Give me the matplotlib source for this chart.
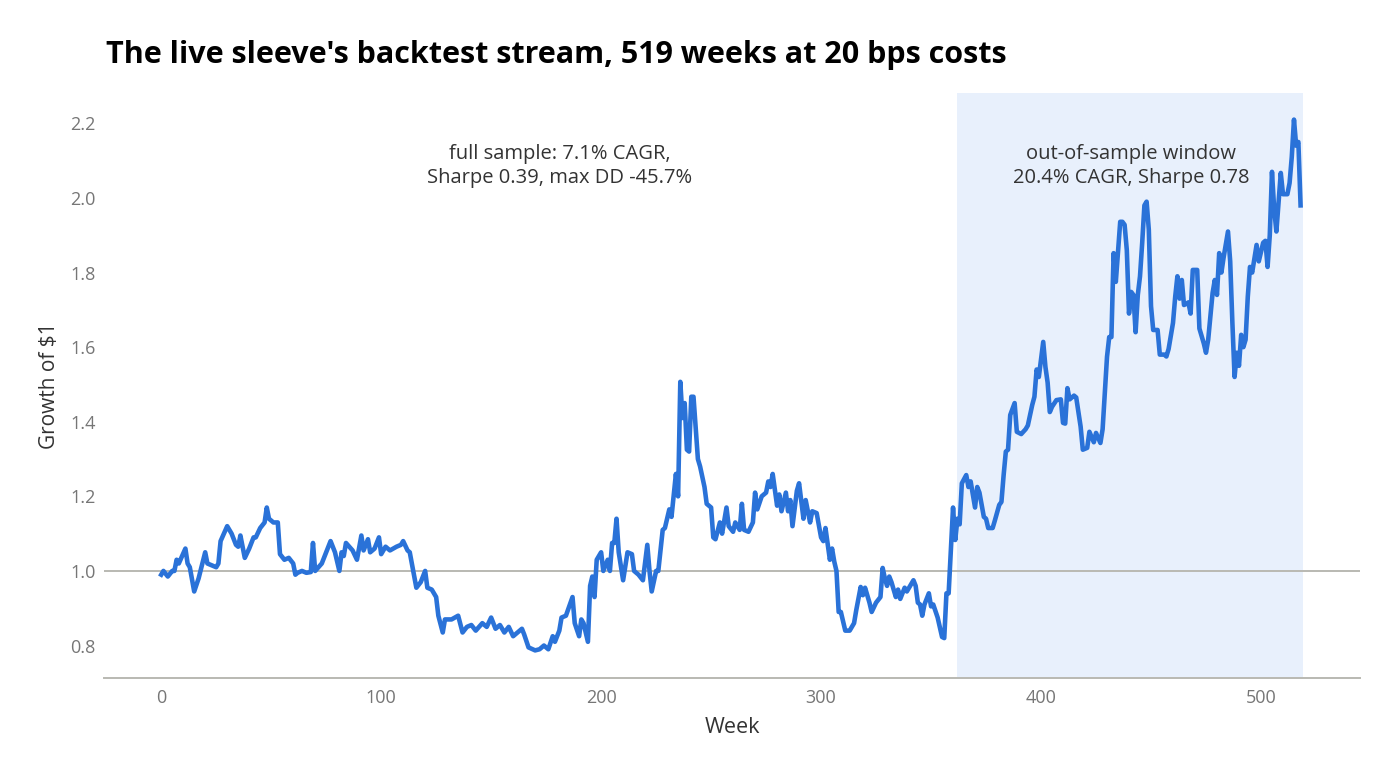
import matplotlib
matplotlib.use("Agg")
import matplotlib.pyplot as plt

plt.rcParams['font.family'] = ['Open Sans', 'DejaVu Sans']

# values (week, growth of $1)
weeks = [0, 1, 3, 5, 6, 7, 8, 11, 12, 13, 15, 17, 20, 21, 25, 26, 27, 30, 32, 34,
         35, 36, 38, 40, 42, 43, 45, 47, 48, 49, 51, 53, 54, 56, 58, 60, 61, 62, 64, 66,
         68, 69, 70, 73, 75, 77, 79, 81, 82, 83, 84, 87, 89, 91, 92, 94, 95, 97, 99, 100,
         102, 104, 107, 109, 110, 112, 113, 116, 118, 120, 121, 123, 125, 126, 128, 129, 132, 135, 137, 139,
         141, 143, 146, 148, 150, 152, 154, 156, 158, 160, 161, 164, 165, 167, 170, 172, 174, 176, 178, 179,
         181, 182, 184, 187, 188, 190, 191, 192, 194, 195, 196, 197, 198, 200, 201, 203, 204, 205, 206, 207,
         208, 210, 212, 214, 215, 217, 219, 221, 222, 223, 225, 226, 228, 229, 231, 232, 234, 235, 236, 237,
         238, 239, 240, 241, 242, 244, 245, 247, 248, 250, 251, 252, 254, 255, 257, 258, 260, 261, 263, 264,
         265, 267, 269, 270, 271, 273, 275, 276, 277, 278, 280, 281, 282, 284, 285, 286, 287, 289, 290, 292,
         293, 295, 296, 298, 300, 301, 302, 304, 305, 306, 307, 308, 309, 311, 313, 315, 316, 318, 319, 320,
         322, 323, 325, 327, 328, 329, 330, 331, 332, 334, 335, 336, 338, 339, 342, 343, 344, 345, 346, 347,
         349, 350, 351, 353, 355, 356, 357, 358, 360, 361, 362, 363, 364, 366, 367, 368, 370, 371, 372, 374,
         375, 376, 378, 379, 381, 382, 383, 384, 385, 386, 388, 389, 391, 393, 394, 396, 397, 398, 399, 401,
         402, 403, 404, 405, 407, 409, 410, 411, 412, 413, 415, 416, 418, 419, 421, 422, 424, 425, 427, 428,
         430, 431, 432, 433, 434, 435, 436, 437, 438, 439, 440, 441, 442, 443, 444, 445, 446, 447, 448, 449,
         450, 451, 453, 454, 456, 457, 458, 460, 461, 462, 463, 464, 465, 466, 467, 468, 469, 471, 472, 474,
         475, 476, 478, 479, 480, 481, 482, 483, 485, 486, 487, 488, 489, 490, 491, 492, 493, 494, 495, 496,
         498, 499, 501, 502, 503, 504, 505, 506, 507, 509, 510, 512, 513, 514, 515, 516, 517, 518]
growth = [0.99, 1.00, 0.985, 1.00, 1.00, 1.03, 1.02, 1.06, 1.02, 1.01, 0.945, 0.98, 1.05, 1.02, 1.01, 1.02, 1.08, 1.12, 1.10, 1.07,
          1.065, 1.095, 1.035, 1.06, 1.09, 1.09, 1.115, 1.13, 1.17, 1.14, 1.13, 1.13, 1.045, 1.03, 1.035, 1.02, 0.99, 0.995, 1.00, 0.995,
          0.997, 1.075, 1.00, 1.02, 1.05, 1.08, 1.05, 1.00, 1.05, 1.04, 1.075, 1.055, 1.03, 1.095, 1.055, 1.085, 1.05, 1.06, 1.09, 1.045,
          1.065, 1.055, 1.065, 1.07, 1.08, 1.055, 1.05, 0.955, 0.97, 1.00, 0.955, 0.95, 0.93, 0.88, 0.835, 0.87, 0.87, 0.88, 0.835, 0.85,
          0.855, 0.84, 0.86, 0.85, 0.875, 0.845, 0.855, 0.835, 0.85, 0.825, 0.83, 0.845, 0.83, 0.795, 0.787, 0.79, 0.80, 0.79, 0.825, 0.81,
          0.84, 0.875, 0.88, 0.93, 0.86, 0.825, 0.87, 0.86, 0.81, 0.96, 0.985, 0.93, 1.03, 1.05, 1.00, 1.03, 1.00, 1.075, 1.075, 1.14,
          1.05, 0.975, 1.05, 1.045, 1.00, 0.99, 0.975, 1.07, 1.00, 0.945, 1.00, 1.00, 1.11, 1.115, 1.165, 1.145, 1.26, 1.20, 1.507, 1.41,
          1.45, 1.325, 1.32, 1.467, 1.467, 1.30, 1.28, 1.225, 1.18, 1.17, 1.09, 1.085, 1.13, 1.10, 1.17, 1.12, 1.105, 1.13, 1.11, 1.18,
          1.11, 1.105, 1.13, 1.21, 1.165, 1.20, 1.21, 1.24, 1.225, 1.26, 1.175, 1.205, 1.16, 1.21, 1.16, 1.19, 1.12, 1.215, 1.235, 1.14,
          1.19, 1.13, 1.16, 1.155, 1.09, 1.08, 1.115, 1.03, 1.06, 1.025, 1.00, 0.89, 0.89, 0.84, 0.84, 0.86, 0.895, 0.957, 0.935, 0.955,
          0.915, 0.89, 0.915, 0.93, 1.008, 0.98, 0.96, 0.985, 0.97, 0.93, 0.95, 0.925, 0.955, 0.945, 0.975, 0.96, 0.915, 0.91, 0.88, 0.91,
          0.94, 0.905, 0.91, 0.875, 0.823, 0.82, 0.94, 0.94, 1.17, 1.083, 1.14, 1.125, 1.235, 1.257, 1.225, 1.24, 1.17, 1.225, 1.21, 1.145,
          1.14, 1.115, 1.115, 1.135, 1.177, 1.185, 1.257, 1.32, 1.325, 1.418, 1.45, 1.373, 1.367, 1.38, 1.39, 1.445, 1.467, 1.54, 1.52, 1.614,
          1.547, 1.505, 1.426, 1.44, 1.458, 1.46, 1.397, 1.395, 1.49, 1.46, 1.47, 1.465, 1.387, 1.325, 1.33, 1.373, 1.345, 1.37, 1.343, 1.38,
          1.574, 1.627, 1.627, 1.852, 1.775, 1.855, 1.936, 1.936, 1.928, 1.86, 1.69, 1.748, 1.74, 1.64, 1.74, 1.79, 1.88, 1.98, 1.99, 1.915,
          1.71, 1.646, 1.646, 1.58, 1.58, 1.575, 1.595, 1.665, 1.735, 1.79, 1.73, 1.78, 1.713, 1.716, 1.72, 1.69, 1.807, 1.807, 1.65, 1.61,
          1.585, 1.62, 1.745, 1.78, 1.74, 1.852, 1.80, 1.84, 1.91, 1.83, 1.665, 1.52, 1.585, 1.55, 1.633, 1.60, 1.62, 1.735, 1.815, 1.80,
          1.874, 1.83, 1.88, 1.885, 1.815, 1.90, 2.07, 1.97, 1.91, 2.067, 2.01, 2.01, 2.04, 2.11, 2.21, 2.14, 2.15, 1.98]

oos_start, oos_end = 362, 519
full_note = "full sample: 7.1% CAGR,\nSharpe 0.39, max DD -45.7%"
oos_note = "out-of-sample window\n20.4% CAGR, Sharpe 0.78"
y_ticks = [0.8, 1.0, 1.2, 1.4, 1.6, 1.8, 2.0, 2.2]
x_ticks = [0, 100, 200, 300, 400, 500]

fig = plt.figure(figsize=(14, 7.76), dpi=100)
ax = fig.add_axes([0.0743, 0.1263, 0.8971, 0.7537])

ax.axvspan(oos_start, oos_end, color='#e8f0fc', lw=0, zorder=0)
ax.axhline(1.0, color='#b9b9b2', lw=1.4, zorder=1)
ax.plot(weeks, growth, color='#2a72d8', lw=3.3, solid_joinstyle='round', zorder=3)

ax.text(181, 2.085, full_note, ha='center', va='center', fontsize=14.5, color='#333333',
        linespacing=1.3)
ax.text(441, 2.085, oos_note, ha='center', va='center', fontsize=14.5, color='#333333',
        linespacing=1.3)

ax.set_xlim(-26, 545)
ax.set_ylim(0.713, 2.281)
ax.set_xticks(x_ticks)
ax.set_yticks(y_ticks)
ax.set_yticklabels([f"{v:.1f}" for v in y_ticks])
ax.tick_params(length=0, labelsize=13, labelcolor='#767676')
ax.tick_params(axis='y', pad=6)
ax.tick_params(axis='x', pad=8)

for s in ['top', 'right', 'left']:
    ax.spines[s].set_visible(False)
ax.spines['bottom'].set_color('#b9b9b2')
ax.spines['bottom'].set_linewidth(1.4)

ax.set_xlabel('Week', fontsize=15.5, color='#333333')
ax.set_ylabel('Growth of $1', fontsize=15, color='#333333')
ax.xaxis.set_label_coords(0.5, -0.067)
ax.yaxis.set_label_coords(-0.035, 0.5)

fig.text(106 / 1400, 1 - 63 / 776, "The live sleeve's backtest stream, 519 weeks at 20 bps costs",
         fontsize=22, fontweight='bold', color='black', ha='left', va='baseline')

fig.savefig('out.png', dpi=100)
